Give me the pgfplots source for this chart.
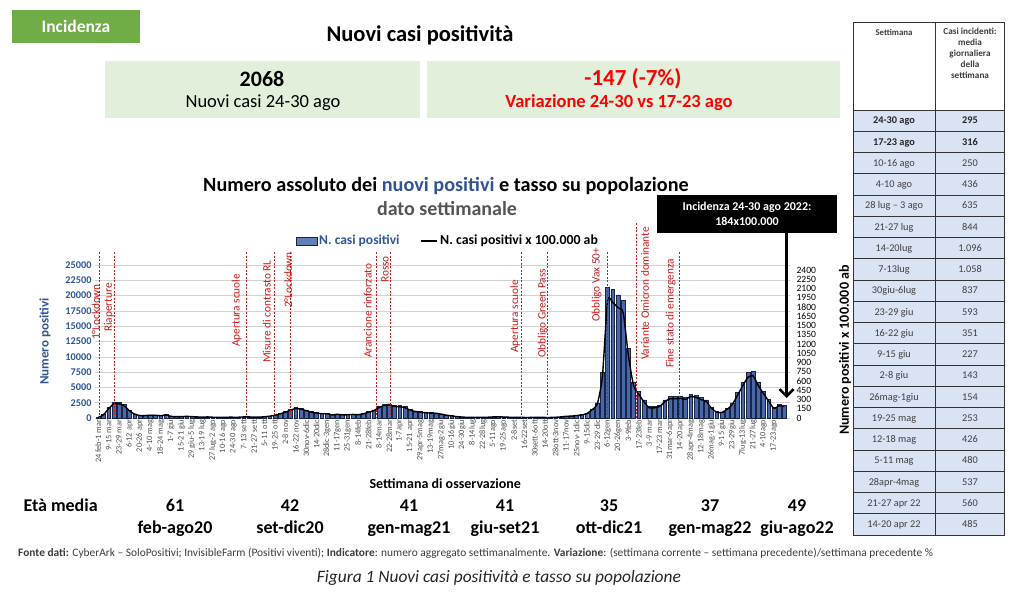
\documentclass[border=0pt]{standalone}
\usepackage{fontspec}
\setmainfont{Carlito}
\usepackage{pgfplots}
\usepackage{pgfplotstable}
\pgfplotsset{compat=1.18}
\usetikzlibrary{arrows.meta}
\definecolor{cgreen}{RGB}{112,173,71}
\definecolor{lgreen}{RGB}{226,239,218}
\definecolor{cred}{RGB}{255,0,0}
\definecolor{annred}{RGB}{200,25,25}
\definecolor{bluetxt}{RGB}{47,85,151}
\definecolor{barfill}{RGB}{72,104,170}
\definecolor{bardraw}{RGB}{25,35,70}
\definecolor{gridc}{RGB}{210,210,210}
\definecolor{tickgrey}{RGB}{60,60,60}
\definecolor{xtickgrey}{RGB}{80,80,80}
\definecolor{tblue}{RGB}{218,227,243}
\definecolor{dgrey}{RGB}{85,85,85}
\newcommand{\fs}[2]{\fontsize{#1bp}{#2bp}\selectfont}

\pgfplotstableread{
i cases rate
1 100 9
2 600 53
3 1700 151
4 2600 231
5 2600 231
6 2200 196
7 1300 116
8 700 62
9 450 40
10 450 40
11 500 45
12 500 45
13 400 36
14 550 49
15 300 27
16 250 22
17 250 22
18 300 27
19 250 22
20 200 18
21 150 13
22 200 18
23 150 13
24 150 13
25 100 9
26 150 13
27 150 13
28 150 13
29 200 18
30 200 18
31 150 13
32 170 15
33 220 20
34 330 29
35 500 45
36 780 69
37 1050 93
38 1440 128
39 1720 153
40 1610 143
41 1330 118
42 1050 93
43 890 79
44 780 69
45 780 69
46 560 50
47 670 60
48 560 50
49 600 53
50 650 58
51 600 53
52 780 69
53 1050 93
54 1330 118
55 1900 169
56 2280 203
57 2330 207
58 2100 187
59 2050 182
60 1900 169
61 1440 128
62 1170 104
63 1050 93
64 950 85
65 890 79
66 850 76
67 700 62
68 500 45
69 380 34
70 250 22
71 180 16
72 120 11
73 110 10
74 100 9
75 110 10
76 150 13
77 200 18
78 220 20
79 180 16
80 150 13
81 120 11
82 110 10
83 100 9
84 100 9
85 100 9
86 100 9
87 100 9
88 100 9
89 130 12
90 200 18
91 300 27
92 350 31
93 450 40
94 550 49
95 800 71
96 1500 134
97 2500 223
98 7500 668
99 21400 1905
100 21000 1869
101 20100 1789
102 19200 1709
103 11400 1015
104 5900 525
105 4300 383
106 2950 263
107 1850 165
108 1850 165
109 2100 187
110 2950 263
111 3500 312
112 3500 312
113 3600 320
114 3395 302
115 3920 349
116 3759 335
117 3360 299
118 2982 265
119 1771 158
120 1078 96
121 1001 89
122 1589 141
123 2457 219
124 4151 369
125 5859 521
126 7406 659
127 7672 683
128 5908 526
129 4445 396
130 3052 272
131 1750 156
132 2212 197
133 2068 184
}\data

\begin{document}
\begin{tikzpicture}
\path[use as bounding box] (0,0) rectangle (1024bp,-592bp);
\fill[white] (0,0) rectangle (1024bp,-592bp);

\begin{axis}[
  at={(95bp,-418bp)}, anchor=south west, scale only axis,
  width=695bp, height=153bp,
  xmin=0.37, xmax=134.1, ymin=0, ymax=25000,
  axis y line*=left, axis x line*=bottom, axis line style={draw=none},
  ytick={0,2500,...,25000}, ymajorgrids,
  grid style={draw=gridc, line width=0.6bp},
  major tick length=0pt,
  /pgf/number format/assume math mode=true,
  /pgf/number format/1000 sep={},
  scaled y ticks=false,
  yticklabel style={font=\fs{10.3}{12}\bfseries, text=bluetxt},
  xtick={1,3,...,131},
  xticklabels={24 feb-1 mar, 9-15 mar, 23-29 mar, 6-12 apr, 20-26 apr, 4-10 mag, 18-24 mag, 1-7 giu, 15-21 giu, 29 giu-5 lug, 13-19 lug, 27 lug-2 ago, 10-16 ago, 24-30 ago, 7-13 sett, 21-27 sett, 5-11 ott, 19-25 ott, 2-8 nov, 16-22 nov, 30nov-6dic, 14-20dic, 28dic-3gen, 11-17gen, 25-31gen, 8-14feb, 21-28feb, 8-14mar, 22-28mar, 1-7apr, 15-21 apr, 29apr-5mag, 13-19mag, 27mag-2giu, 10-16giu, 24-30giu, 8-14lug, 22-28lug, 5-11ago, 19-25ago, 2-8set, 16-22set, 30sett-6ott, 14-20ott, 28ott-3nov, 11-17nov, 25nov-1dic, 9-15dic, 23-29 dic, 6-12gen, 20-26gen, 3-9feb, 17-23feb, 3-9 mar, 17-23 mar, 31mar-6apr, 14-20apr, 28apr-4mag, 12-18mag, 26mag-1giu, 9-15 giu, 23-29giu, 7lug-13lug, 21-27lug, 4-10ago, 17-23ago},
  xticklabel style={rotate=90, anchor=east, font=\fs{8.3}{9}, text=xtickgrey, inner sep=1.5bp},
  ylabel={Numero positivi},
  ylabel style={font=\fs{13}{14}\bfseries, text=bluetxt, at={(axis description cs:-0.072,0.5)}, anchor=center},
  xlabel={Settimana di osservazione},
  xlabel style={font=\fs{14}{16}\bfseries, at={(axis description cs:0.504,-0.431)}, anchor=center},
]
\addplot[ybar, bar width=3.8bp, fill=barfill, draw=bardraw, line width=0.4bp] table[x=i,y=cases]{\data};
\end{axis}

\begin{axis}[
  at={(95bp,-418bp)}, anchor=south west, scale only axis,
  width=695bp, height=153bp,
  xmin=0.37, xmax=134.1, ymin=0, ymax=2480,
  axis y line*=right, axis x line=none, axis line style={draw=none},
  ytick={0,150,...,2400},
  major tick length=0pt,
  /pgf/number format/assume math mode=true,
  /pgf/number format/1000 sep={},
  scaled y ticks=false,
  yticklabel style={font=\fs{9.6}{11}, text=black, xshift=3bp},
  ylabel={Numero positivi x 100.000 ab},
  ylabel style={font=\fs{14}{16}\bfseries, at={(axis description cs:1.0791,0.444)}, anchor=center},
]
\addplot[black, line width=1.4bp, smooth, tension=0.35, mark=none] table[x=i,y=rate]{\data};
\end{axis}

\begin{scope}[x=1bp,y=-1bp]
% header
\fill[cgreen] (12,10) rectangle (140,43);
\node[text=white,font=\fs{17.5}{19}\bfseries] at (76,26.5) {Incidenza};
\node[font=\fs{22.5}{26}\bfseries] at (420,35) {Nuovi casi positività};
\fill[lgreen] (105,61) rectangle (420,118);
\fill[lgreen] (427,61) rectangle (840,118);
\node[font=\fs{22}{26}\bfseries] at (262,79) {2068};
\node[font=\fs{18.5}{22}] at (263,103) {Nuovi casi 24-30 ago};
\node[font=\fs{23}{26}\bfseries, text=cred] at (633,79) {-147 (-7\%)};
\node[font=\fs{18.5}{22}\bfseries, text=cred] at (619,103) {Variazione 24-30 vs 17-23 ago};
% chart title
\node[font=\fs{20.2}{24}\bfseries] at (446,186) {Numero assoluto dei \textcolor{bluetxt}{nuovi positivi} e tasso su popolazione};
\node[font=\fs{20}{24}\bfseries, text=dgrey] at (447,209) {dato settimanale};
% legend
\filldraw[fill=barfill!85!white, draw=bardraw, line width=0.5bp] (296,237) rectangle (317,245);
\node[anchor=west, font=\fs{13.5}{15}\bfseries, text=bluetxt, inner sep=0] at (319,241) {N. casi positivi};
\draw[line width=1.4bp] (421,241) -- (437,241);
\node[anchor=west, font=\fs{13.8}{15}\bfseries, inner sep=0] at (440,241) {N. casi positivi x 100.000 ab};
% annotations
\tikzset{ann/.style={draw=annred, line width=0.6bp, dash pattern=on 2bp off 1.5bp},
  annt/.style={rotate=90, anchor=west, font=\fs{11.3}{13}, text=annred, inner sep=0}}
\foreach \xx/\yt in {99/252,114.3/252,246.7/252,274.3/252,290/252,376.7/252,390.7/252,521.7/252,547.7/252,607.7/252,636/223,679.3/252}
  \draw[ann] (\xx,\yt) -- (\xx,418);
\node[annt] at (95.7,340) {1°Lockdown};
\node[annt] at (109,332) {Riaperture};
\node[annt] at (236.7,347) {Apertura scuole};
\node[annt] at (266.7,363) {Misure di contrasto RL};
\node[annt] at (288.3,308) {2°Lockdown};
\node[annt] at (367.7,358) {Arancione rinforzato};
\node[annt] at (385,283) {Rosso};
\node[annt] at (515,353) {Apertura scuole};
\node[annt] at (542.7,358) {Obbligo Green Pass};
\node[annt] at (596.7,322) {Obbligo Vax 50+};
\node[annt] at (645,360) {Variante Omicron dominante};
\node[annt] at (670.7,368) {Fine stato di emergenza};
% black box + arrow
\fill[black] (657,195) rectangle (837,233);
\node[text=white, font=\fs{12}{15}\bfseries, align=center] at (747,214) {Incidenza 24-30 ago 2022:\\184x100.000};
\draw[line width=2.6bp, -{Straight Barb[length=7bp,width=14bp,line width=2.6bp]}] (786.5,233) -- (786.5,398);
% eta media
\node[anchor=base west, font=\fs{18}{21}\bfseries] at (20,511) {Età media};
\foreach \xx/\n/\p in {175/61/feb-ago20, 290/42/set-dic20, 409/41/gen-mag21, 505/41/giu-set21, 609/35/ott-dic21, 710/37/gen-mag22, 797/49/giu-ago22}{
  \node[anchor=base, font=\fs{18}{21}\bfseries] at (\xx,511) {\n};
  \node[anchor=base, font=\fs{18}{21}\bfseries] at (\xx,533) {\p};
}
% source
\node[anchor=west, font=\fs{11.4}{13}, text=tickgrey, inner sep=0] at (18,553) {\textbf{Fonte dati:} CyberArk – SoloPositivi; InvisibleFarm (Positivi viventi); \textbf{Indicatore}: numero aggregato settimanalmente. \textbf{Variazione}: (settimana corrente – settimana precedente)/settimana precedente \%};
\node[font=\fs{17.4}{20}\itshape, text=black!85] at (499,578) {Figura 1 Nuovi casi positività e tasso su popolazione};
% table
\fill[white] (853,22) rectangle (1004,110);
\fill[tblue] (853,110) rectangle (1004,535);
\foreach \k in {0,...,20} \draw[line width=0.8bp, black!80] (853,110+\k*21.25) -- (1004,110+\k*21.25);
\draw[line width=0.8bp, black!80] (853,22) rectangle (1004,535);
\draw[line width=0.8bp, black!80] (935,22) -- (935,535);
\node[font=\fs{8.8}{10}\bfseries, text=tickgrey] at (894,32) {Settimana};
\node[font=\fs{9.2}{11}\bfseries, text=tickgrey, align=center, anchor=north] at (970,25) {Casi incidenti:\\media\\giornaliera\\della\\settimana};
\foreach \a/\b [count=\r] in {24-30 ago/295, 17-23 ago/316}{
  \node[anchor=base, font=\fs{10.3}{12}\bfseries, text=black!85] at (894,110+\r*21.25-7.3) {\a};
  \node[anchor=base, font=\fs{10.3}{12}\bfseries, text=black!85] at (970,110+\r*21.25-7.3) {\b};
}
\foreach \a/\b [count=\r from 3] in {10-16 ago/250, 4-10 ago/436, 28 lug – 3 ago/635, 21-27 lug/844, 14-20lug/1.096, 7-13lug/1.058, 30giu-6lug/837, 23-29 giu/593, 16-22 giu/351, 9-15 giu/227, 2-8 giu/143, 26mag-1giu/154, 19-25 mag/253, 12-18 mag/426, 5-11 mag/480, 28apr-4mag/537, 21-27 apr 22/560, 14-20 apr 22/485}{
  \node[anchor=base, font=\fs{10.3}{12}, text=black!75] at (894,110+\r*21.25-7.3) {\a};
  \node[anchor=base, font=\fs{10.3}{12}, text=black!75] at (970,110+\r*21.25-7.3) {\b};
}
\end{scope}
\end{tikzpicture}
\end{document}
